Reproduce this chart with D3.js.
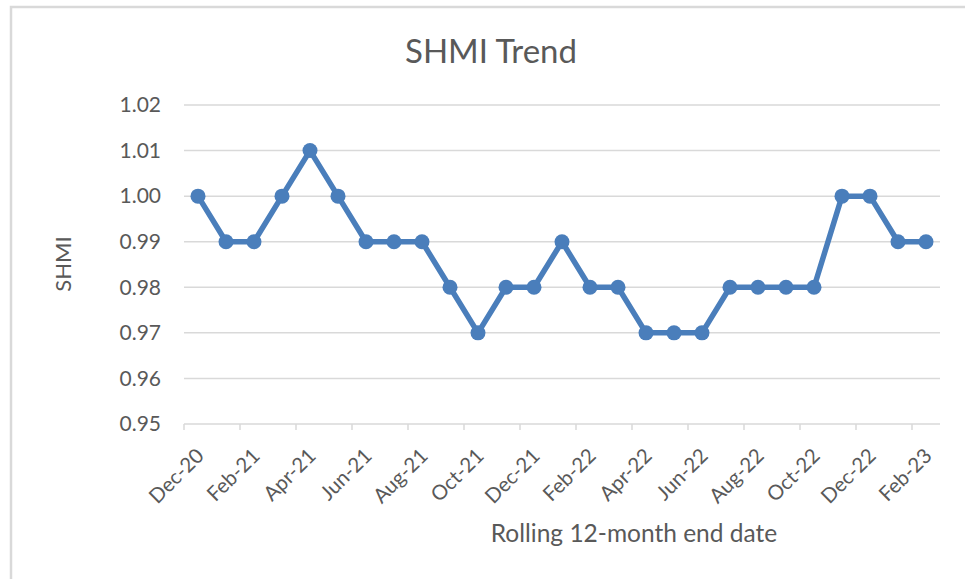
<!DOCTYPE html>
<html>
<head>
<meta charset="utf-8">
<script src="https://cdn.jsdelivr.net/npm/d3@7"></script>
<style>
  body { margin: 0; background: #fff; }
  text { font-family: Lato, "Open Sans", sans-serif; fill: #595959; }
</style>
</head>
<body>
<div id="container"></div>
<script>
/* DATA */
const months = ["Dec-20", "Jan-21", "Feb-21", "Mar-21", "Apr-21", "May-21", "Jun-21", "Jul-21",
  "Aug-21", "Sep-21", "Oct-21", "Nov-21", "Dec-21", "Jan-22", "Feb-22", "Mar-22", "Apr-22",
  "May-22", "Jun-22", "Jul-22", "Aug-22", "Sep-22", "Oct-22", "Nov-22", "Dec-22", "Jan-23", "Feb-23"];
const shmi = [1.00, 0.99, 0.99, 1.00, 1.01, 1.00, 0.99, 0.99, 0.99, 0.98, 0.97, 0.98, 0.98, 0.99,
  0.98, 0.98, 0.97, 0.97, 0.97, 0.98, 0.98, 0.98, 0.98, 1.00, 1.00, 0.99, 0.99];
const yTicks = [0.95, 0.96, 0.97, 0.98, 0.99, 1.00, 1.01, 1.02];
const chartTitle = "SHMI Trend";
const yTitle = "SHMI";
const xTitle = "Rolling 12-month end date";

/* CONSTANTS */
const width = 965, height = 579,
  margin = { top: 105, bottom: 155, left: 184, right: 25 };

const svg = d3.select("#container")
  .append("svg")
  .attr("width", width)
  .attr("height", height)

// chart frame
svg.append("rect")
  .attr("x", 11).attr("y", 7)
  .attr("width", width).attr("height", height)
  .attr("fill", "none")
  .attr("stroke", "#d9d9d9")
  .attr("stroke-width", 2.5)

const data = months.map((m, i) => ({ month: m, value: shmi[i] }))

// SCALES
const xScale = d3.scaleBand()
  .domain(months)
  .range([margin.left, width - margin.right])
  .padding(0)

const yScale = d3.scaleLinear()
  .domain([0.95, 1.02])
  .range([height - margin.bottom, margin.top])

// GRIDLINES
svg.append("g")
  .selectAll("line.grid")
  .data(yTicks.slice(1))
  .join("line")
  .attr("class", "grid")
  .attr("x1", margin.left)
  .attr("x2", width - margin.right)
  .attr("y1", d => yScale(d))
  .attr("y2", d => yScale(d))
  .attr("stroke", "#d9d9d9")
  .attr("stroke-width", 1.5)

// Y AXIS LABELS
svg.append("g")
  .selectAll("text.ytick")
  .data(yTicks)
  .join("text")
  .attr("class", "ytick")
  .attr("x", margin.left - 23)
  .attr("y", d => yScale(d))
  .attr("dy", "0.35em")
  .attr("text-anchor", "end")
  .attr("font-size", 21)
  .text(d => d3.format(".2f")(d))

// X AXIS
const xAxisY = yScale(0.95)
const tickCats = months.filter((d, i) => i % 2 === 0)

svg.append("line")
  .attr("x1", margin.left).attr("x2", width - margin.right)
  .attr("y1", xAxisY).attr("y2", xAxisY)
  .attr("stroke", "#d9d9d9")
  .attr("stroke-width", 1.5)

svg.append("g")
  .selectAll("line.xtick")
  .data(tickCats)
  .join("line")
  .attr("class", "xtick")
  .attr("x1", d => xScale(d))
  .attr("x2", d => xScale(d))
  .attr("y1", xAxisY)
  .attr("y2", xAxisY + 6)
  .attr("stroke", "#d9d9d9")
  .attr("stroke-width", 1.5)

svg.append("g")
  .selectAll("text.xtick")
  .data(tickCats)
  .join("text")
  .attr("class", "xtick")
  .attr("text-anchor", "end")
  .attr("dy", "0.35em")
  .attr("font-size", 20.5)
  .attr("transform", d => `translate(${xScale(d) + xScale.bandwidth() / 2 + 2}, ${xAxisY + 28}) rotate(-45)`)
  .text(d => d)

// LINE
const lineGen = d3.line()
  .x(d => xScale(d.month) + xScale.bandwidth() / 2)
  .y(d => yScale(d.value))

svg.append("path")
  .datum(data)
  .attr("d", lineGen)
  .attr("fill", "none")
  .attr("stroke", "#4a7ebb")
  .attr("stroke-width", 5.5)
  .attr("stroke-linejoin", "round")

svg.selectAll("circle.pt")
  .data(data)
  .join("circle")
  .attr("class", "pt")
  .attr("cx", d => xScale(d.month) + xScale.bandwidth() / 2)
  .attr("cy", d => yScale(d.value))
  .attr("r", 7.5)
  .attr("fill", "#4a7ebb")

// TITLES
svg.append("text")
  .attr("x", 491)
  .attr("y", 63)
  .attr("text-anchor", "middle")
  .attr("font-size", 33)
  .text(chartTitle)

svg.append("text")
  .attr("transform", "translate(71, 264) rotate(-90)")
  .attr("text-anchor", "middle")
  .attr("font-size", 22)
  .text(yTitle)

svg.append("text")
  .attr("x", 634)
  .attr("y", 542)
  .attr("text-anchor", "middle")
  .attr("font-size", 24.5)
  .text(xTitle)
</script>
</body>
</html>
